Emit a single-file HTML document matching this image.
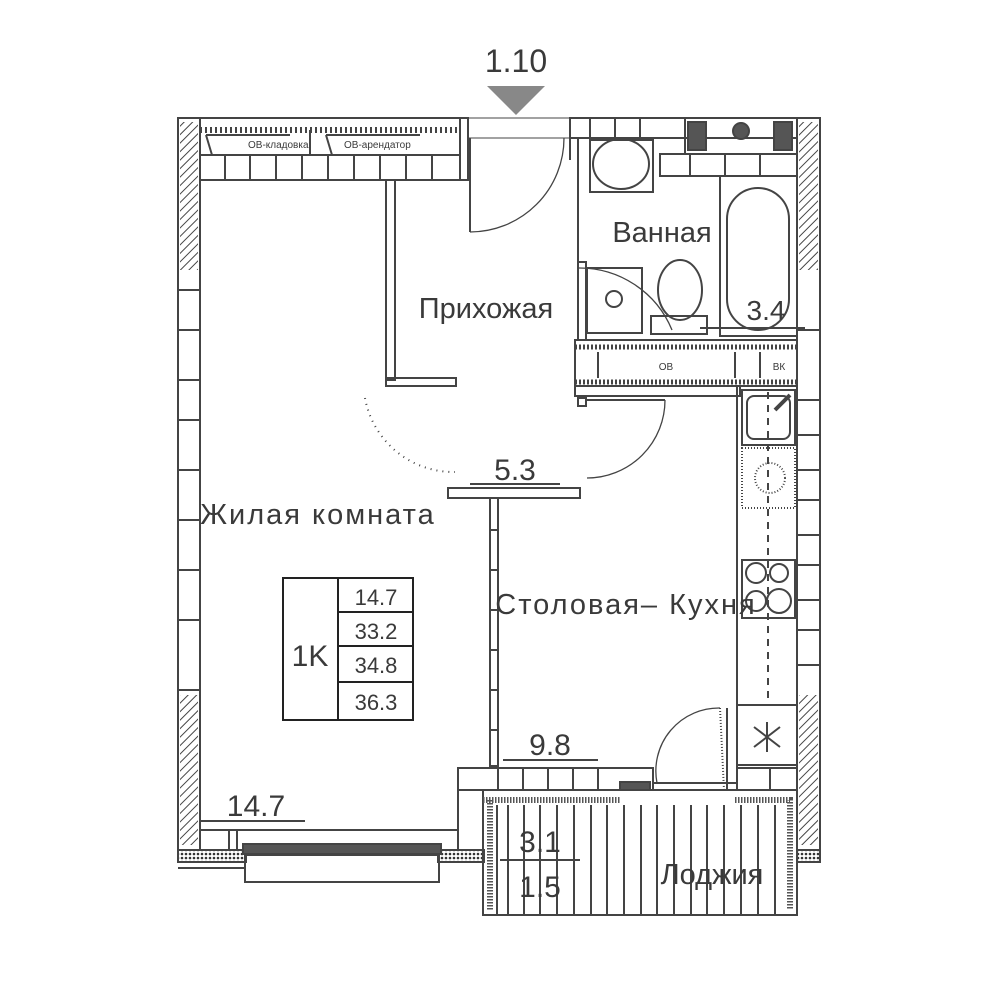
<!DOCTYPE html>
<html><head><meta charset="utf-8"><style>
html,body{margin:0;padding:0;background:#fff}
svg{display:block}
text{font-family:"Liberation Sans","DejaVu Sans",sans-serif;fill:#3a3a3a}
</style></head><body>
<svg width="1000" height="1000" viewBox="0 0 1000 1000" xmlns="http://www.w3.org/2000/svg">
<defs>
<pattern id="h" width="6" height="6" patternUnits="userSpaceOnUse" patternTransform="rotate(45)">
<rect width="6" height="6" fill="#fff"/><line x1="0" y1="0" x2="0" y2="6" stroke="#444" stroke-width="2"/></pattern>
<pattern id="d" width="4" height="4" patternUnits="userSpaceOnUse"><rect width="4" height="4" fill="#fff"/><circle cx="2" cy="2" r="1.3" fill="#333"/></pattern>
</defs>
<g stroke="#444" stroke-width="2" fill="none">
<polygon points="487,86 545,86 516,115" fill="#888" stroke="none"/>
<rect x="178" y="118" width="22" height="732"/>
<rect x="180" y="122" width="18" height="148" fill="url(#h)" stroke="none"/>
<rect x="180" y="695" width="18" height="150" fill="url(#h)" stroke="none"/>
<line x1="178" y1="330" x2="200" y2="330"/><line x1="178" y1="380" x2="200" y2="380"/><line x1="178" y1="420" x2="200" y2="420"/><line x1="178" y1="470" x2="200" y2="470"/><line x1="178" y1="520" x2="200" y2="520"/><line x1="178" y1="570" x2="200" y2="570"/><line x1="178" y1="620" x2="200" y2="620"/><line x1="178" y1="290" x2="200" y2="290"/><line x1="178" y1="690" x2="200" y2="690"/>
<rect x="797" y="118" width="23" height="732"/>
<rect x="799" y="122" width="19" height="148" fill="url(#h)" stroke="none"/>
<rect x="799" y="695" width="19" height="150" fill="url(#h)" stroke="none"/>
<line x1="797" y1="330" x2="820" y2="330"/><line x1="797" y1="400" x2="820" y2="400"/><line x1="797" y1="435" x2="820" y2="435"/><line x1="797" y1="470" x2="820" y2="470"/><line x1="797" y1="500" x2="820" y2="500"/><line x1="797" y1="535" x2="820" y2="535"/><line x1="797" y1="565" x2="820" y2="565"/><line x1="797" y1="600" x2="820" y2="600"/><line x1="797" y1="630" x2="820" y2="630"/><line x1="797" y1="665" x2="820" y2="665"/>
<rect x="200" y="118" width="260" height="62"/>
<line x1="200" y1="130" x2="460" y2="130" stroke-dasharray="2 3" stroke-width="6"/>
<line x1="200" y1="155" x2="460" y2="155"/>
<line x1="206" y1="135" x2="290" y2="135"/><line x1="206" y1="135" x2="212" y2="155"/>
<line x1="326" y1="135" x2="420" y2="135"/><line x1="326" y1="135" x2="332" y2="155"/>
<line x1="310" y1="130" x2="310" y2="155"/>
<line x1="225" y1="155" x2="225" y2="180"/><line x1="250" y1="155" x2="250" y2="180"/><line x1="276" y1="155" x2="276" y2="180"/><line x1="302" y1="155" x2="302" y2="180"/><line x1="328" y1="155" x2="328" y2="180"/><line x1="354" y1="155" x2="354" y2="180"/><line x1="380" y1="155" x2="380" y2="180"/><line x1="406" y1="155" x2="406" y2="180"/><line x1="432" y1="155" x2="432" y2="180"/>
<rect x="460" y="118" width="8" height="62"/>
<line x1="468" y1="118" x2="570" y2="118" stroke-width="1"/>
<line x1="468" y1="138" x2="570" y2="138" stroke-width="1"/>
<line x1="470" y1="138" x2="470" y2="232"/>
<path d="M470,232 A94,94 0 0 0 564,138" stroke-width="1.3"/>
<rect x="386" y="180" width="9" height="200"/>
<rect x="386" y="378" width="70" height="8"/>
<path d="M365,398 A90,90 0 0 0 455,472" stroke-dasharray="1 5" stroke-width="2"/>
<rect x="570" y="118" width="227" height="20"/>
<line x1="570" y1="118" x2="570" y2="160"/><line x1="578" y1="138" x2="578" y2="270"/>
<line x1="590" y1="118" x2="590" y2="138"/><line x1="615" y1="118" x2="615" y2="138"/><line x1="640" y1="118" x2="640" y2="138"/>
<rect x="685" y="118" width="112" height="36"/>
<rect x="688" y="122" width="18" height="28" fill="#555"/><rect x="774" y="122" width="18" height="28" fill="#555"/>
<circle cx="741" cy="131" r="8" fill="#555"/>
<rect x="660" y="154" width="137" height="22"/>
<line x1="690" y1="154" x2="690" y2="176"/><line x1="725" y1="154" x2="725" y2="176"/><line x1="760" y1="154" x2="760" y2="176"/>
<ellipse cx="621" cy="164" rx="28" ry="25"/><rect x="590" y="140" width="63" height="52"/>
<path d="M578,268 A100,100 0 0 1 672,330" stroke-width="1.3"/>
<rect x="720" y="176" width="77" height="160"/>
<rect x="727" y="188" width="62" height="142" rx="31"/>
<rect x="578" y="262" width="8" height="78"/>
<rect x="587" y="268" width="55" height="65"/><circle cx="614" cy="299" r="8"/>
<ellipse cx="680" cy="290" rx="22" ry="30"/><rect x="651" y="316" width="56" height="18"/>
<line x1="700" y1="328" x2="805" y2="328"/>
<rect x="575" y="340" width="222" height="46"/>
<line x1="575" y1="347" x2="797" y2="347" stroke-dasharray="2 2" stroke-width="5"/>
<line x1="575" y1="382" x2="797" y2="382" stroke-dasharray="2 2" stroke-width="5"/>
<line x1="598" y1="352" x2="598" y2="378"/><line x1="735" y1="352" x2="735" y2="378"/><line x1="760" y1="352" x2="760" y2="378"/>
<rect x="575" y="386" width="165" height="10"/>
<rect x="578" y="398" width="8" height="8"/>
<line x1="586" y1="400" x2="665" y2="400"/>
<path d="M665,400 A78,78 0 0 1 587,478" stroke-width="1.3"/>
<rect x="448" y="488" width="132" height="10"/>
<rect x="490" y="498" width="8" height="268"/>
<line x1="490" y1="530" x2="498" y2="530"/><line x1="490" y1="570" x2="498" y2="570"/><line x1="490" y1="610" x2="498" y2="610"/><line x1="490" y1="650" x2="498" y2="650"/><line x1="490" y1="690" x2="498" y2="690"/><line x1="490" y1="730" x2="498" y2="730"/>
<line x1="737" y1="386" x2="737" y2="770"/>
<rect x="742" y="390" width="53" height="55"/><rect x="747" y="396" width="43" height="43" rx="7"/>
<line x1="775" y1="410" x2="790" y2="395" stroke-width="4"/>
<rect x="742" y="448" width="53" height="60" stroke-dasharray="1 2"/><circle cx="770" cy="478" r="15" stroke-dasharray="1 2"/>
<rect x="742" y="560" width="53" height="58"/>
<circle cx="756" cy="573" r="10"/><circle cx="779" cy="573" r="9"/><circle cx="756" cy="601" r="10"/><circle cx="779" cy="601" r="12"/>
<line x1="768" y1="392" x2="768" y2="705" stroke-dasharray="7 6"/>
<rect x="737" y="705" width="60" height="60"/>
<line x1="767" y1="722" x2="767" y2="752"/><line x1="754" y1="727" x2="780" y2="747"/><line x1="780" y1="727" x2="754" y2="747"/>
<line x1="727" y1="708" x2="727" y2="790"/><line x1="720" y1="708" x2="724" y2="790" stroke-dasharray="1 2"/>
<path d="M720,708 A63,63 0 0 0 657,783" stroke-width="1.3"/>
<rect x="458" y="768" width="195" height="22"/>
<line x1="498" y1="768" x2="498" y2="790"/><line x1="523" y1="768" x2="523" y2="790"/><line x1="548" y1="768" x2="548" y2="790"/><line x1="573" y1="768" x2="573" y2="790"/><line x1="598" y1="768" x2="598" y2="790"/>
<rect x="620" y="782" width="30" height="8" fill="#555"/>
<line x1="653" y1="783" x2="737" y2="783"/>
<rect x="737" y="768" width="60" height="22"/><line x1="770" y1="768" x2="770" y2="790"/>
<line x1="200" y1="830" x2="458" y2="830"/>
<rect x="458" y="790" width="25" height="65"/>
<rect x="178" y="850" width="68" height="12" fill="url(#d)"/>
<rect x="438" y="850" width="46" height="12" fill="url(#d)"/>
<line x1="178" y1="868" x2="246" y2="868"/>
<rect x="243" y="844" width="198" height="10" fill="#555"/>
<rect x="245" y="855" width="194" height="27"/>
<rect x="229" y="830" width="8" height="20"/>
<path d="M483,790 L797,790 L797,915 L483,915 Z"/>
<path d="M483,800 L620,800 M735,800 L790,800 L790,910" stroke="#555" stroke-width="6" stroke-dasharray="1.5 1.5"/>
<line x1="490" y1="800" x2="490" y2="910" stroke="#555" stroke-width="6" stroke-dasharray="1.5 1.5"/>
<line x1="497" y1="805" x2="497" y2="915"/><line x1="508" y1="805" x2="508" y2="915"/><line x1="524" y1="805" x2="524" y2="915"/><line x1="540" y1="805" x2="540" y2="915"/><line x1="557" y1="805" x2="557" y2="915"/><line x1="574" y1="805" x2="574" y2="915"/><line x1="591" y1="805" x2="591" y2="915"/><line x1="607" y1="805" x2="607" y2="915"/><line x1="624" y1="805" x2="624" y2="915"/><line x1="641" y1="805" x2="641" y2="915"/><line x1="657" y1="805" x2="657" y2="915"/><line x1="674" y1="805" x2="674" y2="915"/><line x1="691" y1="805" x2="691" y2="915"/><line x1="707" y1="805" x2="707" y2="915"/><line x1="724" y1="805" x2="724" y2="915"/><line x1="741" y1="805" x2="741" y2="915"/><line x1="758" y1="805" x2="758" y2="915"/><line x1="775" y1="805" x2="775" y2="915"/>
<rect x="797" y="850" width="23" height="12" fill="url(#d)"/>
<line x1="470" y1="484" x2="560" y2="484"/>
<line x1="503" y1="760" x2="598" y2="760"/>
<line x1="200" y1="821" x2="305" y2="821"/>
<line x1="500" y1="860" x2="580" y2="860"/>
<rect x="283" y="578" width="130" height="142" stroke="#222"/>
<line x1="338" y1="578" x2="338" y2="720" stroke="#222"/>
<line x1="338" y1="612" x2="413" y2="612" stroke="#222"/><line x1="338" y1="646" x2="413" y2="646" stroke="#222"/><line x1="338" y1="682" x2="413" y2="682" stroke="#222"/>
</g>
<text x="516" y="72" font-size="32" text-anchor="middle">1.10</text>
<text x="248" y="148" font-size="10">ОВ-кладовка</text>
<text x="344" y="148" font-size="10">ОВ-арендатор</text>
<text x="662" y="242" font-size="29" text-anchor="middle">Ванная</text>
<text x="486" y="318" font-size="29" text-anchor="middle">Прихожая</text>
<text x="766" y="320" font-size="28" text-anchor="middle">3.4</text>
<text x="666" y="370" font-size="10" text-anchor="middle">ОВ</text>
<text x="779" y="370" font-size="10" text-anchor="middle">ВК</text>
<text x="515" y="480" font-size="30" text-anchor="middle">5.3</text>
<text x="318" y="524" font-size="29" text-anchor="middle" letter-spacing="2">Жилая комната</text>
<text x="626" y="614" font-size="29" text-anchor="middle" letter-spacing="2">Столовая– Кухня</text>
<text x="310" y="666" font-size="30" text-anchor="middle">1K</text>
<text x="376" y="605" font-size="22" text-anchor="middle">14.7</text>
<text x="376" y="639" font-size="22" text-anchor="middle">33.2</text>
<text x="376" y="673" font-size="22" text-anchor="middle">34.8</text>
<text x="376" y="710" font-size="22" text-anchor="middle">36.3</text>
<text x="550" y="755" font-size="30" text-anchor="middle">9.8</text>
<text x="256" y="816" font-size="30" text-anchor="middle">14.7</text>
<text x="540" y="852" font-size="30" text-anchor="middle">3.1</text>
<text x="540" y="897" font-size="30" text-anchor="middle">1.5</text>
<text x="712" y="884" font-size="29" text-anchor="middle">Лоджия</text>
</svg>
</body></html>
